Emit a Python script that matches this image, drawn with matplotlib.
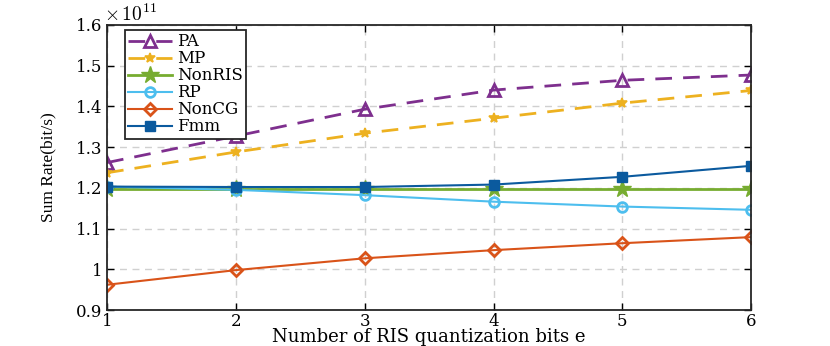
import numpy as np
import matplotlib
matplotlib.use("Agg")
import matplotlib.pyplot as plt

plt.rcParams.update({"font.family": "serif", "font.serif": ["DejaVu Serif"],
                     "mathtext.fontset": "cm", "axes.unicode_minus": False})

# data (units of 1e11 bit/s)
bits = np.array([1, 2, 3, 4, 5, 6])
pa = np.array([1.262, 1.327, 1.393, 1.440, 1.464, 1.477])
mp = np.array([1.237, 1.288, 1.334, 1.371, 1.408, 1.439])
nonris = np.array([1.198, 1.198, 1.198, 1.198, 1.198, 1.198])
rp = np.array([1.203, 1.195, 1.182, 1.166, 1.154, 1.146])
noncg = np.array([0.962, 0.998, 1.027, 1.047, 1.064, 1.079])
fmm = np.array([1.203, 1.202, 1.202, 1.208, 1.227, 1.254])
yticks = [0.9, 1.0, 1.1, 1.2, 1.3, 1.4, 1.5, 1.6]
ylabels = ["0.9", "1", "1.1", "1.2", "1.3", "1.4", "1.5", "1.6"]

fig = plt.figure(figsize=(8.3, 3.46), dpi=100)
ax = fig.add_axes([0.129, 0.104, 0.776, 0.824])

ax.plot(bits, pa, "--^", color="#7E2F8E", lw=2, ms=8, mfc="none", mew=2, label="PA", dashes=(6, 4))
ax.plot(bits, mp, "--*", color="#EDB120", lw=2, ms=7, mew=1.2, label="MP", dashes=(6, 4))
ax.plot(bits, nonris, "-*", color="#77AC30", lw=2, ms=13, label="NonRIS")
ax.plot(bits, rp, "-o", color="#4DBEEE", lw=1.5, ms=7, mfc="none", mew=2, label="RP")
ax.plot(bits, noncg, "-D", color="#D95319", lw=1.5, ms=6, mfc="none", mew=2, label="NonCG")
ax.plot(bits, fmm, "-s", color="#0B5A9E", lw=1.5, ms=7, label="Fmm")

ax.set_xlim(1, 6)
ax.set_ylim(0.9, 1.6)
ax.set_xticks(bits)
ax.set_yticks(yticks)
ax.set_yticklabels(ylabels)
ax.tick_params(direction="in", top=True, right=True, length=5, width=1, labelsize=12)
ax.tick_params(axis="x", pad=2)
ax.grid(True, ls=(0, (5, 4)), color="#d0d0d0", lw=1)
for s in ax.spines.values():
    s.set_linewidth(1.3)
    s.set_color("#262626")

ax.set_xlabel("Number of RIS quantization bits e", fontsize=13, labelpad=-1)
ax.set_ylabel("Sum Rate(bit/s)", fontsize=12.5, family="Liberation Serif")
ax.yaxis.set_label_coords(-0.078, 0.5)
ax.text(-0.005, 1.0, r"$\times\,10^{11}$", transform=ax.transAxes, fontsize=14, va="bottom")

leg = ax.legend(loc="upper left", bbox_to_anchor=(0.028, 0.982), borderaxespad=0, fontsize=12,
                fancybox=False, edgecolor="#262626", framealpha=1,
                handlelength=2.6, labelspacing=0.0, borderpad=0.2, handletextpad=0.3)
leg.get_frame().set_linewidth(1.3)

fig.savefig("out.png", dpi=100, facecolor="white")
